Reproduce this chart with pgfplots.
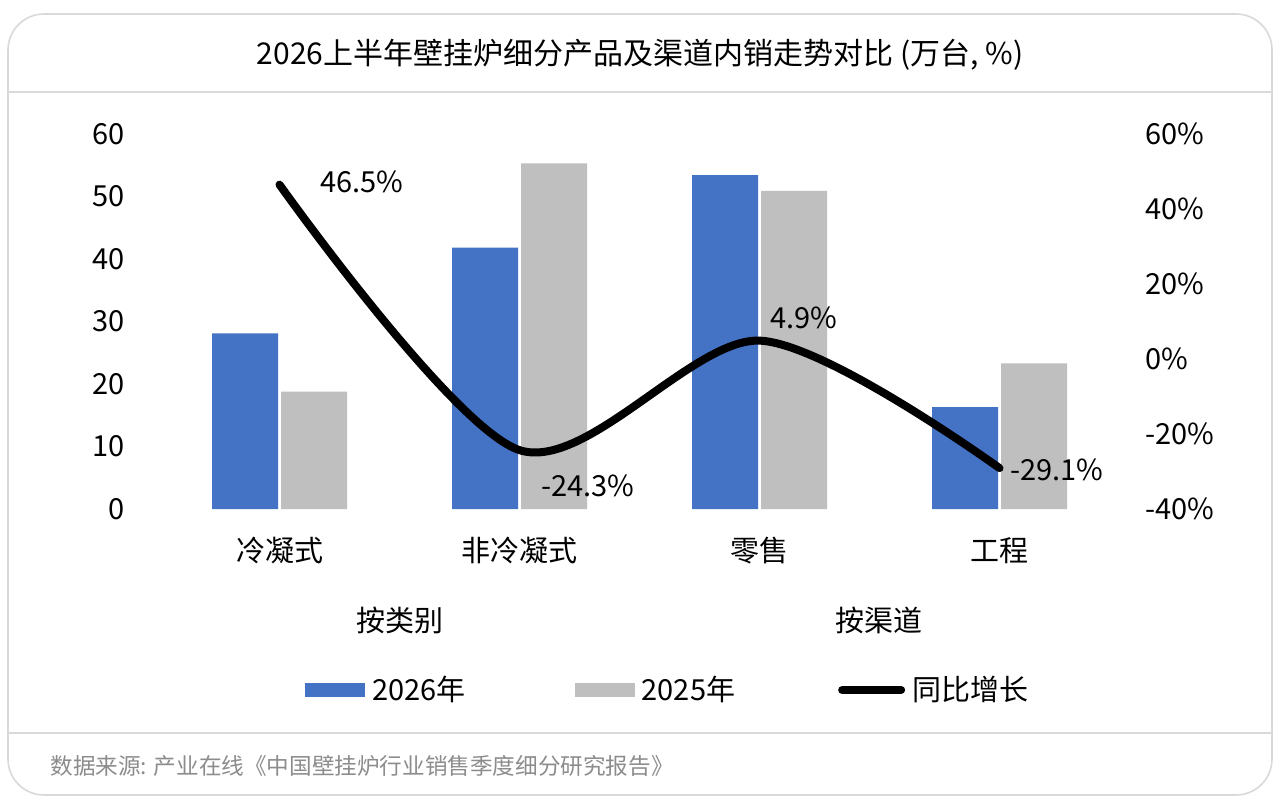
\documentclass[border=0pt]{standalone}
\usepackage{fontspec}
\setmainfont{Noto Sans CJK SC}
\usepackage{pgfplots}
\pgfplotsset{compat=1.18}
\definecolor{barblue}{HTML}{4472C4}
\definecolor{bargray}{HTML}{BFBFBF}
\definecolor{bordergray}{HTML}{D9D9D9}
\definecolor{foot}{HTML}{8C8C8C}
\newcommand\fs[1]{\fontsize{#1}{#1}\selectfont}

\begin{document}
\begin{tikzpicture}
\fill[white] (0,0) rectangle (640pt,405pt);
\draw[bordergray, line width=0.8pt, rounded corners=18pt] (4pt,7.5pt) rectangle (636pt,398pt);
\draw[bordergray, line width=0.8pt] (4pt,359pt) -- (636pt,359pt);
\draw[bordergray, line width=0.8pt] (4pt,38.5pt) -- (636pt,38.5pt);
\node[font=\fs{15pt}] at (320pt,377.5pt) {2026上半年壁挂炉细分产品及渠道内销走势对比 (万台, \%)};
\node[font=\fs{11.3pt}, text=foot, anchor=west, inner sep=0pt] at (25pt,22pt) {数据来源: 产业在线《中国壁挂炉行业销售季度细分研究报告》};
\node[font=\fs{14.5pt}] at (200pt,95pt) {按类别};
\node[font=\fs{14.5pt}] at (439.5pt,95pt) {按渠道};

\begin{axis}[
  at={(79.75pt,150.5pt)}, anchor=south west,
  scale only axis, width=480pt, height=187.5pt,
  ybar=1.5pt, bar width=33pt,
  xmin=-0.5, xmax=3.5, ymin=0, ymax=60,
  xtick={0,1,2,3}, xticklabels={冷凝式,非冷凝式,零售,工程},
  ytick={0,10,20,30,40,50,60}, yticklabels={0,10,20,30,40,50,60},
  axis line style={draw=none}, major tick length=0pt,
  ticklabel style={font=\fs{14.5pt}},
  xticklabel style={anchor=base, inner sep=0pt}, xticklabel shift=26pt,
  yticklabel style={anchor=east, inner sep=0pt}, yticklabel shift=17.25pt,
  legend style={at={(0.15156,-0.4827)}, anchor=west, draw=none, fill=none,
    inner sep=0pt, font=\fs{14.5pt}, column sep=3.5pt, nodes={inner sep=0pt}},
  legend columns=3,
]
\addplot[fill=barblue, draw=none, legend image code/.code={\fill[barblue] (0pt,-3.5pt) rectangle (30pt,3.5pt);}]
  coordinates {(0,28.1) (1,41.8) (2,53.4) (3,16.3)};
\addlegendentry{2026年\rule{51pt}{0pt}}
\addplot[fill=bargray, draw=none, legend image code/.code={\fill[bargray] (0pt,-3.5pt) rectangle (30pt,3.5pt);}]
  coordinates {(0,18.8) (1,55.3) (2,50.9) (3,23.3)};
\addlegendentry{2025年\rule{48pt}{0pt}}
\addlegendimage{legend image code/.code={\draw[black, line width=4pt, line cap=round] (2pt,0pt) -- (31.5pt,0pt);}}
\addlegendentry{同比增长}
\end{axis}

\begin{axis}[
  at={(79.75pt,150.5pt)}, anchor=south west,
  scale only axis, width=480pt, height=187.5pt,
  xmin=-0.5, xmax=3.5, ymin=-40, ymax=60,
  axis x line=none, axis y line*=right,
  axis line style={draw=none}, major tick length=0pt,
  ytick={-40,-20,0,20,40,60}, yticklabels={-40\%,-20\%,0\%,20\%,40\%,60\%},
  yticklabel style={anchor=west, inner sep=0pt, font=\fs{14.5pt}}, yticklabel shift=12.75pt,
  clip=false,
]
\addplot[black, line width=4pt, smooth, line cap=round, line join=round] coordinates {(0,46.5) (1,-24.3) (2,4.9) (3,-29.1)};
\node[anchor=west, inner sep=0pt, font=\fs{14.5pt}] at (axis cs:0.169,47.2) {46.5\%};
\node[anchor=west, inner sep=0pt, font=\fs{14.5pt}] at (axis cs:1.0896,-33.9) {-24.3\%};
\node[anchor=west, inner sep=0pt, font=\fs{14.5pt}] at (axis cs:2.044,10.9) {4.9\%};
\node[anchor=west, inner sep=0pt, font=\fs{14.5pt}] at (axis cs:3.044,-29.6) {-29.1\%};
\end{axis}

\pgfresetboundingbox
\path[use as bounding box] (0,0) rectangle (640pt,405pt);
\end{tikzpicture}
\end{document}
